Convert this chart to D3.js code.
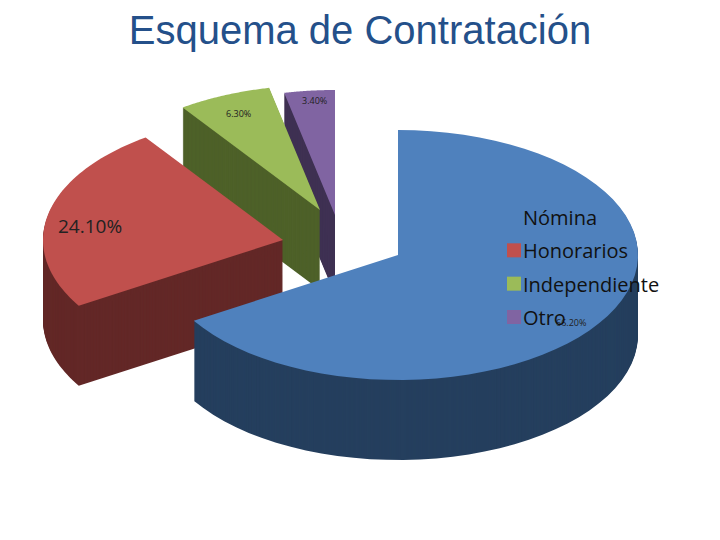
<!DOCTYPE html>
<html><head><meta charset="utf-8">
<script src="https://cdn.jsdelivr.net/npm/d3@7"></script>
<style>body{margin:0;background:#fff}</style>
</head><body><svg id="c" width="720" height="540"></svg>
<script>
var categories = ["Nómina", "Honorarios", "Independiente", "Otro"];
var values = [66.2, 24.1, 6.3, 3.4];
var labels = ["66.20%", "24.10%", "6.30%", "3.40%"];
var colors = ["#4F81BD", "#C0504D", "#9BBB59", "#8064A2"];
var darks = ["#253f5e", "#632827", "#4e6129", "#3f3153"];
var explode = [[0, 0], [-115, -15], [-78, -45], [-63, -40]];

var svg = d3.select("#c");
var cx = 398, cy = 255, rx = 240, ry = 125, depth = 80;

svg.append("text").attr("x", 360).attr("y", 44).attr("text-anchor", "middle")
  .attr("font-family", "Liberation Sans, Arial").attr("font-size", 40)
  .attr("fill", "#24508a").text("Esquema de Contratación");

var pie = d3.pie().sort(null).value(d => d);
var arcs = pie(values);

function shape(a, i, dy) {
  var ox = cx + explode[i][0], oy = cy + explode[i][1] + dy;
  var pts = [[ox, oy]];
  var n = 60;
  for (var k = 0; k <= n; k++) {
    var t = a.startAngle + (a.endAngle - a.startAngle) * k / n;
    pts.push([ox + Math.sin(t) * rx, oy - Math.cos(t) * ry]);
  }
  return d3.line()(pts) + "Z";
}

// back slices first, front (Nómina) last
[3, 2, 1, 0].forEach(function(i) {
  var g = svg.append("g");
  for (var dy = depth; dy > 0; dy -= 1) {
    g.append("path").attr("d", shape(arcs[i], i, dy)).attr("fill", darks[i]);
  }
  g.append("path").attr("d", shape(arcs[i], i, 0)).attr("fill", colors[i]);
});

var font = "Open Sans, DejaVu Sans, sans-serif";
var lab = [[556, 326, 9], [58, 233, 19], [226, 117, 9], [302, 104, 9]];
lab.forEach(function(l, i) {
  svg.append("text").attr("x", l[0]).attr("y", l[1]).attr("font-family", font)
    .attr("font-size", l[2]).attr("fill", "#222").text(labels[i]);
});

var ly = d3.scalePoint().domain(categories).range([218, 318]);
var leg = svg.append("g");
categories.forEach(function(c) {
  leg.append("rect").attr("x", 507).attr("y", ly(c) - 8).attr("width", 14).attr("height", 14)
    .attr("fill", colors[categories.indexOf(c)]);
  leg.append("text").attr("x", 523).attr("y", ly(c) + 7).attr("font-family", font)
    .attr("font-size", 20).attr("fill", "#111").text(c);
});
</script></body></html>
